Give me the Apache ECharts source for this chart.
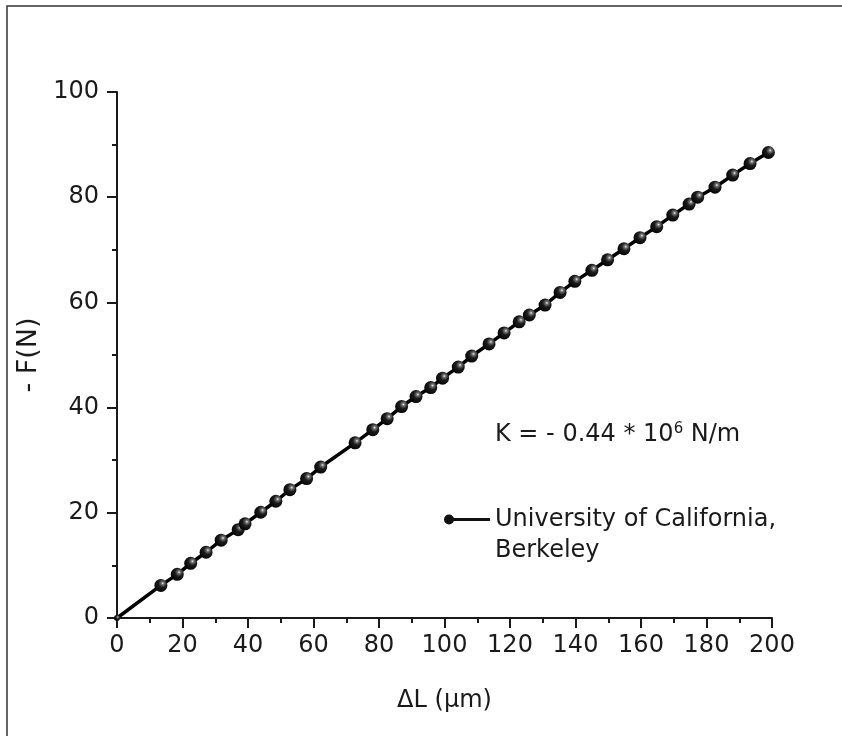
<!DOCTYPE html>
<html>
<head>
<meta charset="utf-8">
<script src="https://cdn.jsdelivr.net/npm/echarts@6/dist/echarts.min.js"></script>
<style>
html,body{margin:0;padding:0;background:#fff;}
#chart{width:842px;height:736px;}
</style>
</head>
<body>
<div id="chart"></div>
<script>
// Data
const deltaL = [0, 13.4, 18.4, 22.5, 27.2, 31.8, 37.0, 39.1, 43.9, 48.5, 52.8, 57.9, 62.2, 72.7, 78.1, 82.5, 86.9, 91.3, 95.8, 99.4, 104.2, 108.3, 113.6, 118.2, 122.8, 125.9, 130.7, 135.3, 139.8, 145.0, 149.8, 154.8, 159.7, 164.8, 169.7, 174.7, 177.3, 182.6, 188.0, 193.3, 198.9];
const negF = [0, 6.2, 8.3, 10.4, 12.5, 14.8, 16.8, 17.9, 20.1, 22.2, 24.4, 26.5, 28.7, 33.3, 35.8, 37.9, 40.2, 42.1, 43.8, 45.6, 47.7, 49.8, 52.1, 54.2, 56.3, 57.6, 59.5, 61.9, 64.0, 66.1, 68.1, 70.2, 72.3, 74.4, 76.6, 78.7, 80.0, 81.9, 84.2, 86.4, 88.5];
const xTicks = [0, 20, 40, 60, 80, 100, 120, 140, 160, 180, 200];
const yTicks = [0, 20, 40, 60, 80, 100];
const seriesName = 'University of California,\nBerkeley';
const xTitle = '\u0394L (\u03bcm)';
const yTitle = '- F(N)';

const FONT = 'DejaVu Sans';
const INK = '#1a1a1a';

const points = deltaL.map((x, i) => {
  const p = { value: [x, negF[i]] };
  if (i === 0) p.symbolSize = 6;
  return p;
});

const sphere = {
  type: 'radial', x: 0.64, y: 0.34, r: 0.75,
  colorStops: [
    { offset: 0, color: '#f4f4f4' },
    { offset: 0.14, color: '#777777' },
    { offset: 0.42, color: '#1c1c1c' },
    { offset: 1, color: '#000000' }
  ]
};

const chart = echarts.init(document.getElementById('chart'), null, { renderer: 'canvas' });
chart.setOption({
  backgroundColor: '#ffffff',
  animation: false,
  textStyle: { fontFamily: FONT },
  grid: { left: 117, right: 70, top: 92, bottom: 118, containLabel: false },
  xAxis: {
    type: 'value', min: 0, max: 200, interval: 20,
    name: xTitle, nameLocation: 'middle', nameGap: 71,
    nameTextStyle: { fontFamily: FONT, fontSize: 24, color: INK },
    axisLine: { show: true, onZero: false, lineStyle: { color: INK, width: 2 } },
    axisTick: { show: true, inside: false, length: 10, lineStyle: { color: INK, width: 2 } },
    minorTick: { show: true, splitNumber: 2, length: 5, lineStyle: { color: INK, width: 2 } },
    axisLabel: { margin: 16, fontFamily: FONT, fontSize: 24, color: INK,
      formatter: v => xTicks.indexOf(v) >= 0 ? String(v) : '' },
    splitLine: { show: false }
  },
  yAxis: {
    type: 'value', min: 0, max: 100, interval: 20,
    name: yTitle, nameLocation: 'middle', nameGap: 67, nameRotate: 90,
    nameTextStyle: { fontFamily: FONT, fontSize: 27, color: INK },
    axisLine: { show: true, onZero: false, lineStyle: { color: INK, width: 2 } },
    axisTick: { show: true, inside: false, length: 10, lineStyle: { color: INK, width: 2 } },
    minorTick: { show: true, splitNumber: 2, length: 5, lineStyle: { color: INK, width: 2 } },
    axisLabel: { margin: 18, fontFamily: FONT, fontSize: 24, color: INK,
      formatter: v => yTicks.indexOf(v) >= 0 ? String(v) : '' },
    splitLine: { show: false }
  },
  legend: {
    show: true,
    left: 439, top: 468,
    orient: 'vertical',
    itemWidth: 46, itemHeight: 10,
    icon: 'path://M0,5A5,5 0 1,1 10,5A5,5 0 1,1 0,5Z M8,3.5L46,3.5L46,6.5L8,6.5Z',
    itemStyle: { color: '#111111', borderWidth: 0 },
    formatter: name => '\n' + name,
    textStyle: { fontFamily: FONT, fontSize: 24, color: INK, lineHeight: 31 },
    data: [{ name: seriesName }]
  },
  graphic: [
    {
      type: 'rect', silent: true, z: 100,
      shape: { x: 7, y: 6, width: 900, height: 800 },
      style: { fill: 'none', stroke: '#333333', lineWidth: 1.5 }
    },
    {
      type: 'text', silent: true, z: 100,
      x: 495, y: 435,
      style: {
        text: 'K = - 0.44 * 10{sup|6} N/m',
        font: '24px "DejaVu Sans"',
        fill: INK,
        verticalAlign: 'middle',
        rich: {
          sup: { fontSize: 15, fontFamily: FONT, verticalAlign: 'top', padding: [0, 0, 12, 0], fill: INK }
        }
      }
    }
  ],
  series: [{
    name: seriesName,
    type: 'line',
    data: points,
    symbol: 'circle',
    symbolSize: 13,
    showSymbol: true,
    lineStyle: { color: '#000000', width: 3.5 },
    itemStyle: { color: sphere, borderWidth: 0 },
    z: 3
  }]
});
</script>
</body>
</html>
